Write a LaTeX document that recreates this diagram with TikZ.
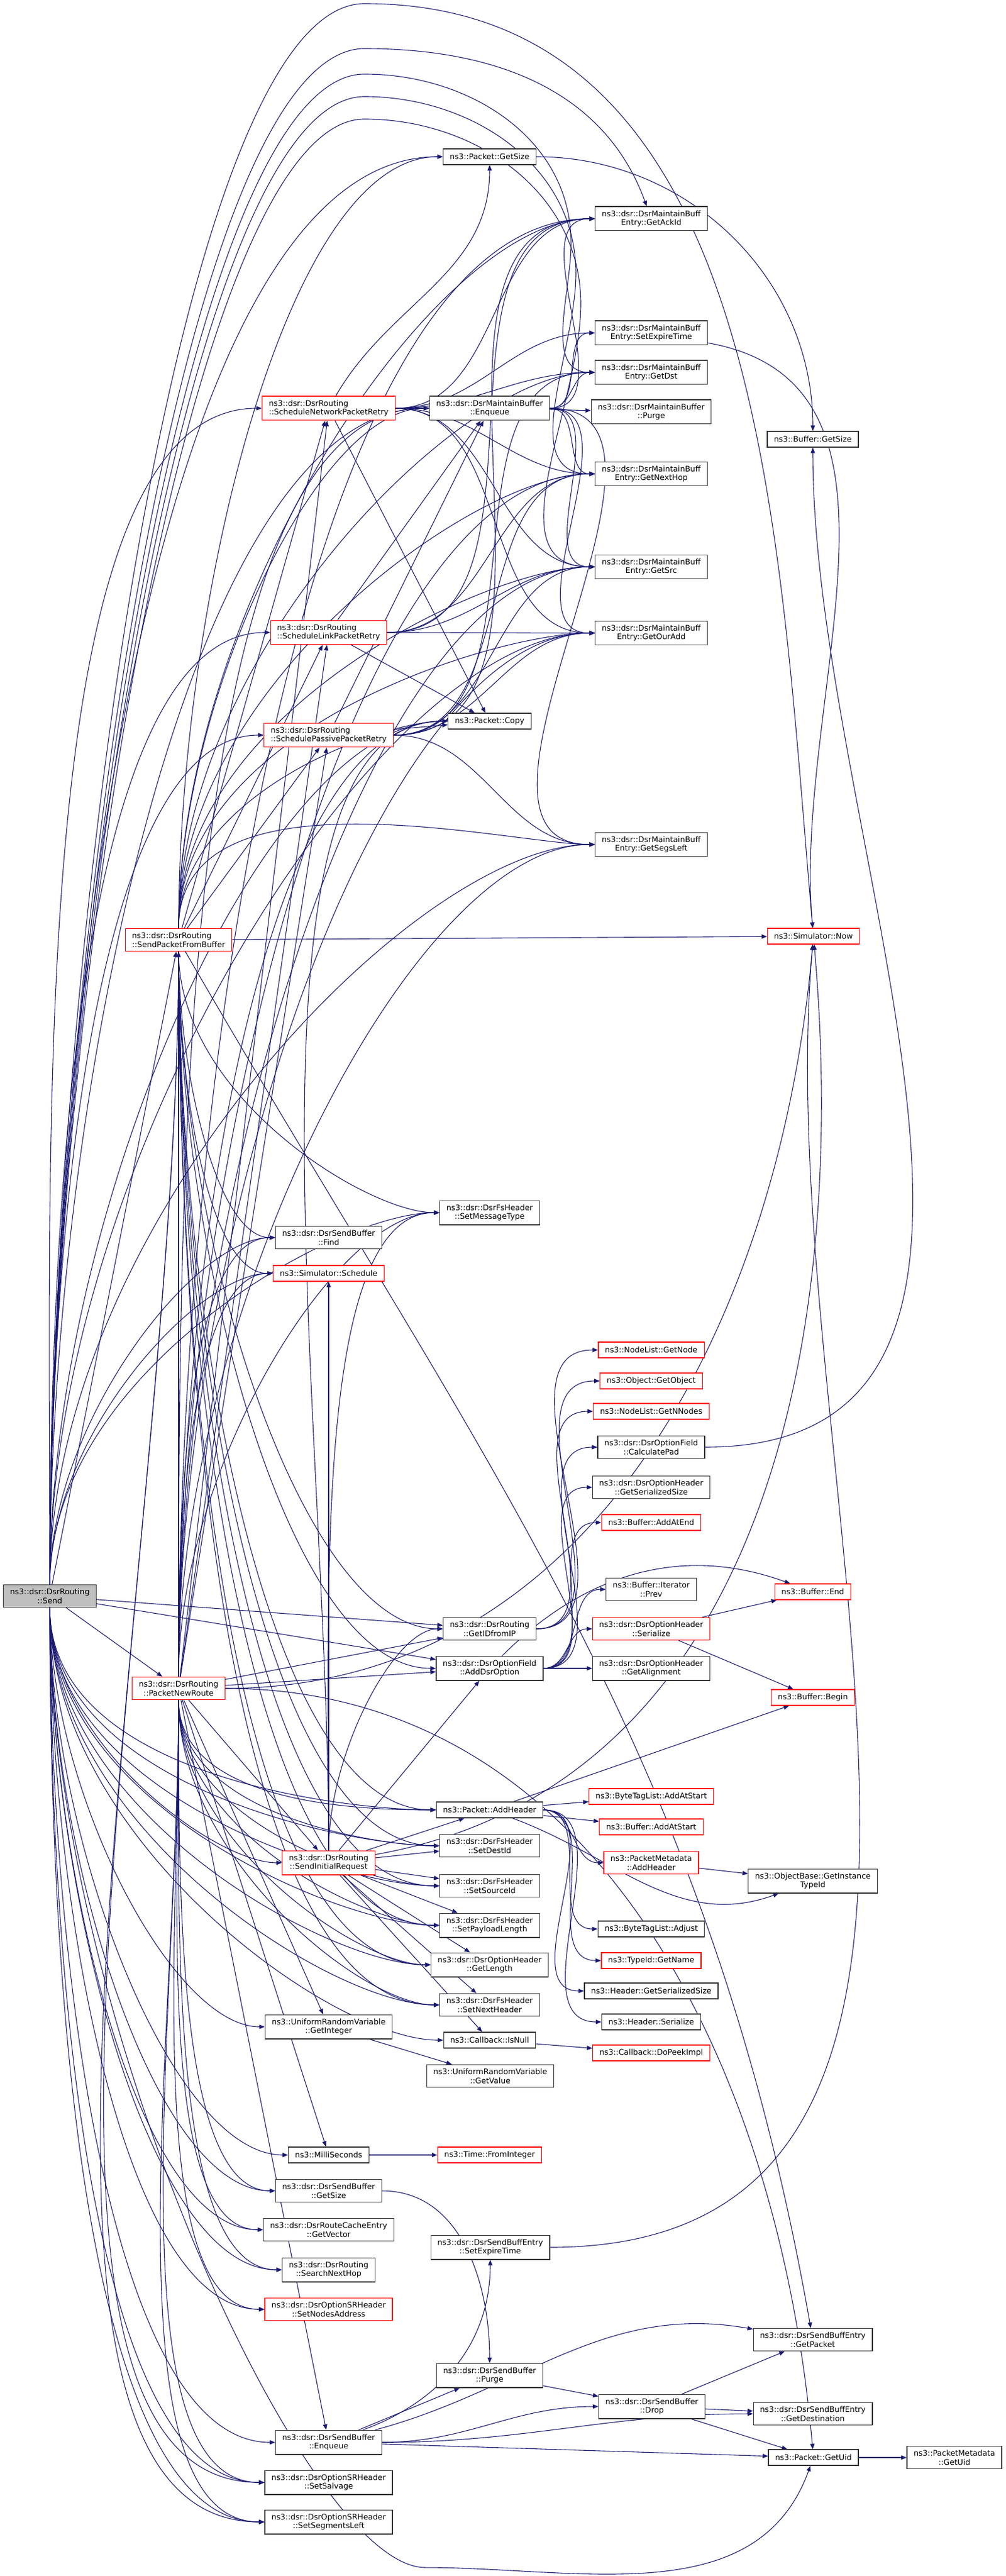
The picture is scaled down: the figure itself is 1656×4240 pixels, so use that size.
\documentclass[tikz,border=0pt]{standalone}
\usepackage{fontspec}
\newfontfamily\dfont{DejaVu Sans}
\usepackage{tikz}
\usetikzlibrary{arrows.meta,backgrounds}

\definecolor{edgeblue}{HTML}{191970}
\definecolor{boxgray}{HTML}{BFBFBF}
\definecolor{boxline}{HTML}{333333}

\begin{document}
\begin{tikzpicture}[x=0.1pt,y=-0.1pt,
  fn/.style={draw=boxline,fill=white,line width=0.12pt,align=center,
    font=\dfont\fontsize{1.28pt}{1.48pt}\selectfont,
    inner xsep=1.1pt,inner ysep=0.63pt,minimum height=2.6pt},
  fnred/.style={fn,draw=red},
  call/.style={draw=edgeblue,line width=0.11pt,->,>={Triangle[length=0.9pt,width=0.7pt]}},
  goup/.style={out=90,in=180,in looseness=0.5},
  godown/.style={out=-90,in=180,in looseness=0.5},
  goside/.style={out=0,in=180},
  overtop/.style={out=90,in=180,in looseness=0.3}]

\useasboundingbox (0,0) rectangle (1656,4240);

\node[fn,fill=boxgray] (send) at (82,2627) {ns3::dsr::DsrRouting\\::Send};

\node[fnred,align=left] (snpr) at (541,672) {ns3::dsr::DsrRouting\\::ScheduleNetworkPacketRetry};
\node[fnred,align=left] (slpr) at (541,1041) {ns3::dsr::DsrRouting\\::ScheduleLinkPacketRetry};
\node[fnred,align=left] (sppr) at (541,1210) {ns3::dsr::DsrRouting\\::SchedulePassivePacketRetry};
\node[fnred,align=left] (spfb) at (294,1547) {ns3::dsr::DsrRouting\\::SendPacketFromBuffer};
\node[fn] (find) at (541,2037) {ns3::dsr::DsrSendBuffer\\::Find};
\node[fnred] (schedule) at (541,2096) {ns3::Simulator::Schedule};
\node[fnred] (pnr) at (294,2779) {ns3::dsr::DsrRouting\\::PacketNewRoute};
\node[fnred] (sir) at (541,3066) {ns3::dsr::DsrRouting\\::SendInitialRequest};
\node[fn] (getint) at (541,3336) {ns3::UniformRandomVariable\\::GetInteger};
\node[fn] (ms) at (541,3547) {ns3::MilliSeconds};
\node[fn] (sbsize) at (541,3606) {ns3::dsr::DsrSendBuffer\\::GetSize};
\node[fn] (getvec) at (541,3670) {ns3::dsr::DsrRouteCacheEntry\\::GetVector};
\node[fn] (search) at (541,3736) {ns3::dsr::DsrRouting\\::SearchNextHop};
\node[fnred] (nodesaddr) at (541,3801) {ns3::dsr::DsrOptionSRHeader\\::SetNodesAddress};
\node[fn] (sbenq) at (541,4020) {ns3::dsr::DsrSendBuffer\\::Enqueue};
\node[fn] (salvage) at (541,4086) {ns3::dsr::DsrOptionSRHeader\\::SetSalvage};
\node[fn] (segments) at (541,4151) {ns3::dsr::DsrOptionSRHeader\\::SetSegmentsLeft};

\node[fn] (getsize) at (806,258) {ns3::Packet::GetSize};
\node[fn] (menq) at (806,672) {ns3::dsr::DsrMaintainBuffer\\::Enqueue};
\node[fn] (copy) at (806,1187) {ns3::Packet::Copy};
\node[fn] (msgtype) at (806,1996) {ns3::dsr::DsrFsHeader\\::SetMessageType};
\node[fn] (getid) at (806,2681) {ns3::dsr::DsrRouting\\::GetIDfromIP};
\node[fn] (adddsropt) at (806,2746) {ns3::dsr::DsrOptionField\\::AddDsrOption};
\node[fn] (addheader) at (806,2979) {ns3::Packet::AddHeader};
\node[fn] (setdest) at (806,3038) {ns3::dsr::DsrFsHeader\\::SetDestId};
\node[fn] (setsrc) at (806,3104) {ns3::dsr::DsrFsHeader\\::SetSourceId};
\node[fn] (setpay) at (806,3169) {ns3::dsr::DsrFsHeader\\::SetPayloadLength};
\node[fn] (getlen) at (806,3234) {ns3::dsr::DsrOptionHeader\\::GetLength};
\node[fn] (setnext) at (806,3300) {ns3::dsr::DsrFsHeader\\::SetNextHeader};
\node[fn] (isnull) at (806,3358) {ns3::Callback::IsNull};
\node[fn] (getval) at (807,3417) {ns3::UniformRandomVariable\\::GetValue};
\node[fnred] (fromint) at (806,3547) {ns3::Time::FromInteger};
\node[fn] (sbexpire) at (807,3699) {ns3::dsr::DsrSendBuffEntry\\::SetExpireTime};
\node[fn] (sbpurge) at (806,3910) {ns3::dsr::DsrSendBuffer\\::Purge};

\node[fn] (ackid) at (1072,360) {ns3::dsr::DsrMaintainBuff\\Entry::GetAckId};
\node[fn] (mexpire) at (1072,548) {ns3::dsr::DsrMaintainBuff\\Entry::SetExpireTime};
\node[fn] (getdst) at (1072,613) {ns3::dsr::DsrMaintainBuff\\Entry::GetDst};
\node[fn] (mpurge) at (1072,678) {ns3::dsr::DsrMaintainBuffer\\::Purge};
\node[fn] (nexthop) at (1072,780) {ns3::dsr::DsrMaintainBuff\\Entry::GetNextHop};
\node[fn] (getsrc) at (1072,933) {ns3::dsr::DsrMaintainBuff\\Entry::GetSrc};
\node[fn] (ouradd) at (1072,1042) {ns3::dsr::DsrMaintainBuff\\Entry::GetOurAdd};
\node[fn] (segsleft) at (1072,1390) {ns3::dsr::DsrMaintainBuff\\Entry::GetSegsLeft};
\node[fnred] (getnode) at (1072,2222) {ns3::NodeList::GetNode};
\node[fnred] (getobject) at (1072,2273) {ns3::Object::GetObject};
\node[fnred] (getnnodes) at (1072,2323) {ns3::NodeList::GetNNodes};
\node[fn] (calcpad) at (1072,2382) {ns3::dsr::DsrOptionField\\::CalculatePad};
\node[fn] (optsersize) at (1072,2448) {ns3::dsr::DsrOptionHeader\\::GetSerializedSize};
\node[fnred] (addatend) at (1072,2506) {ns3::Buffer::AddAtEnd};
\node[fn] (prev) at (1072,2616) {ns3::Buffer::Iterator\\::Prev};
\node[fnred] (serialize) at (1072,2681) {ns3::dsr::DsrOptionHeader\\::Serialize};
\node[fn] (align) at (1072,2746) {ns3::dsr::DsrOptionHeader\\::GetAlignment};
\node[fnred] (btaddstart) at (1072,2957) {ns3::ByteTagList::AddAtStart};
\node[fnred] (bufaddstart) at (1072,3007) {ns3::Buffer::AddAtStart};
\node[fnred] (pmaddheader) at (1072,3066) {ns3::PacketMetadata\\::AddHeader};
\node[fn] (btadjust) at (1072,3175) {ns3::ByteTagList::Adjust};
\node[fnred] (typename) at (1072,3227) {ns3::TypeId::GetName};
\node[fn] (hdrsize) at (1072,3277) {ns3::Header::GetSerializedSize};
\node[fn] (hdrser) at (1072,3328) {ns3::Header::Serialize};
\node[fnred] (peek) at (1072,3379) {ns3::Callback::DoPeekImpl};
\node[fn] (drop) at (1073,3961) {ns3::dsr::DsrSendBuffer\\::Drop};

\node[fn] (bufsize) at (1338,723) {ns3::Buffer::GetSize};
\node[fnred] (now) at (1339,1541) {ns3::Simulator::Now};
\node[fnred] (bufend) at (1338,2620) {ns3::Buffer::End};
\node[fnred] (bufbegin) at (1338,2794) {ns3::Buffer::Begin};
\node[fn] (instid) at (1338,3096) {ns3::ObjectBase::GetInstance\\TypeId};
\node[fn] (getpacket) at (1338,3851) {ns3::dsr::DsrSendBuffEntry\\::GetPacket};
\node[fn] (getdest) at (1338,3973) {ns3::dsr::DsrSendBuffEntry\\::GetDestination};
\node[fn] (getuid) at (1339,4045) {ns3::Packet::GetUid};

\node[fn] (pmuid) at (1571,4045) {ns3::PacketMetadata\\::GetUid};

\begin{scope}[on background layer]
\draw[call] (send) to[overtop] (600,6) to[out=0,in=95] (now);
\draw[call] (send) to[overtop] (600,80) to[out=0,in=110] (ackid);
\draw[call] (send) to[overtop] (600,122) to[out=0,in=90] (940,400) to[out=-90,in=180] (getdst);
\draw[call] (send) to[overtop] (600,159) to[out=0,in=90] (948,450) to[out=-90,in=180] (nexthop);
\draw[call] (send) to[overtop] (600,196) to[out=0,in=90] (956,500) to[out=-90,in=180] (getsrc);
\draw[call] (send) to[goup] (getsize);
\draw[call] (send) to[goup] (ouradd);
\draw[call] (send) to[goup] (segsleft);
\draw[call] (send) to[goup] (snpr);
\draw[call] (send) to[goup] (slpr);
\draw[call] (send) to[goup] (sppr);
\draw[call] (send) -- (spfb);
\draw[call] (send) to[goup] (copy);
\draw[call] (send) to[goup] (menq);
\draw[call] (send) to[goup] (msgtype);
\draw[call] (send) to[goup] (find);
\draw[call] (send) to[goup] (schedule);
\draw[call] (send) -- (getid);
\draw[call] (send) -- (adddsropt);
\draw[call] (send) -- (pnr);
\draw[call] (send) to[godown] (addheader);
\draw[call] (send) to[godown] (sir);
\draw[call] (send) to[godown] (setdest);
\draw[call] (send) to[godown] (setsrc);
\draw[call] (send) to[godown] (setpay);
\draw[call] (send) to[godown] (getlen);
\draw[call] (send) to[godown] (setnext);
\draw[call] (send) to[godown] (isnull);
\draw[call] (send) to[godown] (getint);
\draw[call] (send) to[godown] (ms);
\draw[call] (send) to[godown] (sbsize);
\draw[call] (send) to[godown] (getvec);
\draw[call] (send) to[godown] (search);
\draw[call] (send) to[godown] (nodesaddr);
\draw[call] (send) to[godown] (sbenq);
\draw[call] (send) to[godown] (salvage);
\draw[call] (send) to[godown] (segments);
\draw[call] (send) to[out=-90,in=180,in looseness=0.3] (700,4226) to[out=0,in=-110] (getuid);

\draw[call] (spfb) -- (snpr);
\draw[call] (spfb) -- (slpr);
\draw[call] (spfb) -- (sppr);
\draw[call] (spfb) to[goup] (menq);
\draw[call] (spfb) to[goup] (ackid);
\draw[call] (spfb) to[goup] (getdst);
\draw[call] (spfb) to[goup] (nexthop);
\draw[call] (spfb) to[goup] (getsrc);
\draw[call] (spfb) to[goup] (ouradd);
\draw[call] (spfb) to[goup] (segsleft);
\draw[call] (spfb) to[goup] (copy);
\draw[call] (spfb) to[goup] (getsize);
\draw[call] (spfb) -- (now);
\draw[call] (spfb) to[godown] (msgtype);
\draw[call] (spfb) to[godown] (find);
\draw[call] (spfb) to[godown] (schedule);
\draw[call] (spfb) to[godown] (getid);
\draw[call] (spfb) to[godown] (adddsropt);
\draw[call] (spfb) to[godown] (addheader);
\draw[call] (spfb) to[godown] (setdest);
\draw[call] (spfb) to[godown] (setsrc);
\draw[call] (spfb) to[godown] (setpay);
\draw[call] (spfb) to[godown] (getlen);
\draw[call] (spfb) to[godown] (setnext);
\draw[call] (spfb) to[out=-60,in=100] (getpacket);
\draw[call] (spfb) to[godown] (salvage);
\draw[call] (spfb) to[godown] (segments);

\draw[call] (pnr) -- (getid);
\draw[call] (pnr) -- (adddsropt);
\draw[call] (pnr) -- (spfb);
\draw[call] (pnr) to[goup] (msgtype);
\draw[call] (pnr) to[goup] (copy);
\draw[call] (pnr) to[goup] (menq);
\draw[call] (pnr) to[goup] (ackid);
\draw[call] (pnr) to[goup] (nexthop);
\draw[call] (pnr) to[goup] (getsrc);
\draw[call] (pnr) to[goup] (ouradd);
\draw[call] (pnr) to[goup] (segsleft);
\draw[call] (pnr) -- (snpr);
\draw[call] (pnr) -- (slpr);
\draw[call] (pnr) -- (sppr);
\draw[call] (pnr) to[goup] (find);
\draw[call] (pnr) to[goup] (schedule);
\draw[call] (pnr) to[out=0,in=-95] (now);
\draw[call] (pnr) to[godown] (addheader);
\draw[call] (pnr) -- (sir);
\draw[call] (pnr) to[godown] (setdest);
\draw[call] (pnr) to[godown] (setsrc);
\draw[call] (pnr) to[godown] (setpay);
\draw[call] (pnr) to[godown] (getlen);
\draw[call] (pnr) to[godown] (setnext);
\draw[call] (pnr) -- (getint);
\draw[call] (pnr) -- (ms);
\draw[call] (pnr) to[godown] (sbsize);
\draw[call] (pnr) to[godown] (getvec);
\draw[call] (pnr) to[godown] (search);
\draw[call] (pnr) to[godown] (nodesaddr);
\draw[call] (pnr) -- (sbenq);
\draw[call] (pnr) to[godown] (salvage);
\draw[call] (pnr) to[godown] (segments);
\draw[call] (pnr) to[out=0,in=95] (getuid);

\draw[call] (sir) to[goup] (getid);
\draw[call] (sir) -- (adddsropt);
\draw[call] (sir) -- (addheader);
\draw[call] (sir) -- (setdest);
\draw[call] (sir) -- (setsrc);
\draw[call] (sir) -- (setpay);
\draw[call] (sir) -- (getlen);
\draw[call] (sir) -- (setnext);
\draw[call] (sir) -- (isnull);
\draw[call] (sir) to[goup] (msgtype);
\draw[call] (sir) to[goup] (copy);
\draw[call] (sir) -- (schedule);
\draw[call] (sir) to[out=10,in=-85] (now);

\draw[call] (snpr) to[out=60,in=-90] (getsize);
\draw[call] (snpr) -- (menq);
\draw[call] (snpr) to[goside] (ackid);
\draw[call] (snpr) to[goside] (mexpire);
\draw[call] (snpr) to[goside] (getdst);
\draw[call] (snpr) to[goside] (nexthop);
\draw[call] (snpr) to[goside] (getsrc);
\draw[call] (snpr) to[goside] (ouradd);
\draw[call] (snpr) -- (copy);

\draw[call] (slpr) -- (menq);
\draw[call] (slpr) to[goside] (ackid);
\draw[call] (slpr) to[goside] (nexthop);
\draw[call] (slpr) to[goside] (getsrc);
\draw[call] (slpr) to[goside] (ouradd);
\draw[call] (slpr) -- (copy);

\draw[call] (sppr) -- (copy);
\draw[call] (sppr) -- (menq);
\draw[call] (sppr) to[goside] (ackid);
\draw[call] (sppr) to[goside] (getdst);
\draw[call] (sppr) to[goside] (nexthop);
\draw[call] (sppr) to[goside] (getsrc);
\draw[call] (sppr) to[goside] (ouradd);
\draw[call] (sppr) to[goside] (segsleft);

\draw[call] (menq) to[goside] (ackid);
\draw[call] (menq) to[goside] (mexpire);
\draw[call] (menq) to[goside] (getdst);
\draw[call] (menq) -- (mpurge);
\draw[call] (menq) to[goside] (nexthop);
\draw[call] (menq) to[goside] (getsrc);
\draw[call] (menq) to[goside] (ouradd);
\draw[call] (menq) to[goside] (segsleft);

\draw[call] (getsize) to[out=0,in=90] (bufsize);
\draw[call] (mexpire) to[out=-10,in=95] (now);
\draw[call] (calcpad) to[out=0,in=-90] (bufsize);

\draw[call] (getid) to[goside] (getnode);
\draw[call] (getid) to[goside] (getobject);
\draw[call] (getid) to[goside] (getnnodes);

\draw[call] (adddsropt) to[goside] (calcpad);
\draw[call] (adddsropt) to[goside] (optsersize);
\draw[call] (adddsropt) to[goside] (addatend);
\draw[call] (adddsropt) to[goside] (prev);
\draw[call] (adddsropt) to[goside] (serialize);
\draw[call] (adddsropt) -- (align);
\draw[call] (adddsropt) to[out=45,in=160] (bufend);
\draw[call] (serialize) -- (bufend);
\draw[call] (serialize) -- (bufbegin);

\draw[call] (addheader) -- (bufbegin);
\draw[call] (addheader) -- (btaddstart);
\draw[call] (addheader) -- (bufaddstart);
\draw[call] (addheader) to[goside] (pmaddheader);
\draw[call] (addheader) to[out=-20,in=-160] (instid);
\draw[call] (addheader) to[goside] (btadjust);
\draw[call] (addheader) to[goside] (typename);
\draw[call] (addheader) to[goside] (hdrsize);
\draw[call] (addheader) to[goside] (hdrser);
\draw[call] (pmaddheader) -- (instid);

\draw[call] (isnull) -- (peek);
\draw[call] (getint) -- (getval);
\draw[call] (ms) -- (fromint);
\draw[call] (sbsize) to[out=0,in=90] (sbpurge);
\draw[call] (sbexpire) to[out=0,in=-95] (now);

\draw[call] (sbenq) to[out=20,in=-90] (sbexpire);
\draw[call] (sbenq) -- (sbpurge);
\draw[call] (sbenq) to[goside] (drop);
\draw[call] (sbenq) to[out=15,in=170] (getpacket);
\draw[call] (sbenq) to[goside] (getdest);
\draw[call] (sbenq) -- (getuid);
\draw[call] (sbpurge) -- (drop);
\draw[call] (drop) -- (getpacket);
\draw[call] (drop) -- (getdest);
\draw[call] (drop) -- (getuid);
\draw[call] (getuid) -- (pmuid);
\end{scope}
\end{tikzpicture}
\end{document}
